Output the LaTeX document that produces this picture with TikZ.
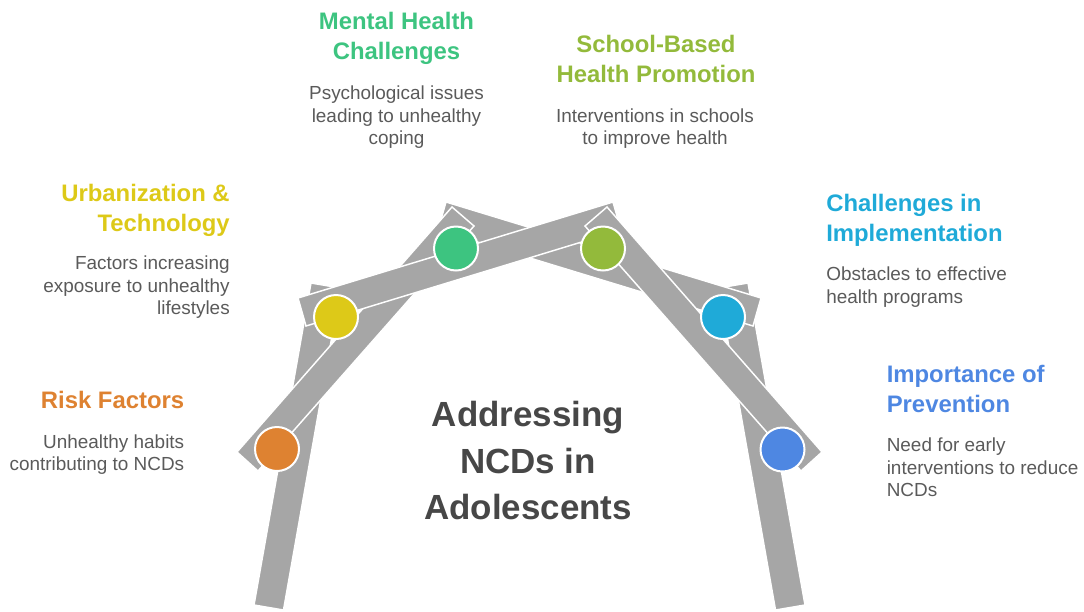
\documentclass[tikz,border=0pt]{standalone}
\usepackage{fontspec}
\setmainfont{Liberation Sans}
\definecolor{bargrey}{HTML}{A6A6A6}
\definecolor{bodygrey}{HTML}{5A5A5A}
\definecolor{titlegrey}{HTML}{474747}
\definecolor{corange}{HTML}{DE8231}
\definecolor{cyellow}{HTML}{DDC918}
\definecolor{cgreen}{HTML}{3DC480}
\definecolor{colive}{HTML}{93BA3B}
\definecolor{ccyan}{HTML}{1FAAD8}
\definecolor{cblue}{HTML}{4E87E2}
\begin{document}
\begin{tikzpicture}[x=0.75pt,y=-0.75pt,
  bar/.style={fill=bargrey, draw=white, line width=1.1pt, line join=miter},
  dot/.style={circle, draw=white, line width=1.5pt, minimum size=33pt, inner sep=0pt},
  head/.style={font=\bfseries\fontsize{17.9}{22.5}\selectfont, inner sep=0pt},
  body/.style={font=\fontsize{14.2}{16.8}\selectfont, text=bodygrey, inner sep=0pt},
  title/.style={font=\bfseries\fontsize{26.2}{34.9}\selectfont, text=titlegrey, inner sep=0pt, align=center}]
\useasboundingbox (0,0) rectangle (1084,611);

% legs of the arch
\filldraw[bar] (254,605) -- (283.5,610) -- (340.5,288) -- (311,283) -- cycle;
\filldraw[bar] (805,605) -- (775.5,610) -- (718.5,288) -- (748,283) -- cycle;
% crossing beams
\filldraw[bar] (761,298) -- (753,326) -- (438,230) -- (446,202) -- cycle;
\filldraw[bar] (237,452) -- (258,471) -- (474,226) -- (452,207) -- cycle;
\filldraw[bar] (298,298) -- (306,326) -- (621,230) -- (613,202) -- cycle;
\filldraw[bar] (822,452) -- (801,471) -- (585,226) -- (607,207) -- cycle;

% joints
\node[dot, fill=corange] (risk) at (277,449) {};
\node[dot, fill=cyellow] (urban) at (336,317) {};
\node[dot, fill=cgreen] (mental) at (456,248.5) {};
\node[dot, fill=colive] (school) at (603,248.5) {};
\node[dot, fill=ccyan] (impl) at (723,317) {};
\node[dot, fill=cblue] (prev) at (782.5,449.5) {};

% centre title
\node[title, anchor=north] (ttl) at (528,401) {Addressing\\NCDs in\\Adolescents};

% labels
\node[head, text=cgreen, anchor=north, align=center] (mentalH) at (396.5,12) {Mental Health\\Challenges};
\node[body, anchor=north, align=center] (mentalB) at (396.5,86) {Psychological issues\\leading to unhealthy\\coping};

\node[head, text=colive, anchor=north, align=center] (schoolH) at (656,35) {School-Based\\Health Promotion};
\node[body, anchor=north, align=center] (schoolB) at (655,108.5) {Interventions in schools\\to improve health};

\node[head, text=cyellow, anchor=north east, align=right] (urbanH) at (230,183.5) {Urbanization \&\\Technology};
\node[body, anchor=north east, align=right] (urbanB) at (230,256) {Factors increasing\\exposure to unhealthy\\lifestyles};

\node[head, text=corange, anchor=north east, align=right] (riskH) at (184.5,390.5) {Risk Factors};
\node[body, anchor=north east, align=right] (riskB) at (184.5,434.5) {Unhealthy habits\\contributing to NCDs};

\node[head, text=ccyan, anchor=north west, align=left] (implH) at (826,193.5) {Challenges in\\Implementation};
\node[body, anchor=north west, align=left] (implB) at (826,267) {Obstacles to effective\\health programs};

\node[head, text=cblue, anchor=north west, align=left] (prevH) at (886.5,365) {Importance of\\Prevention};
\node[body, anchor=north west, align=left] (prevB) at (886.5,438) {Need for early\\interventions to reduce\\NCDs};
\end{tikzpicture}
\end{document}
